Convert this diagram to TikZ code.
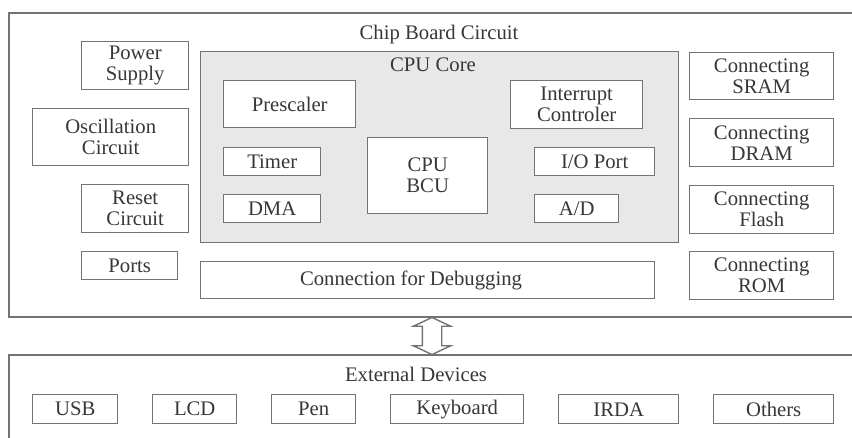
\documentclass[tikz,border=0pt]{standalone}
\usepackage{fontspec}
\setmainfont{Liberation Serif}
\usetikzlibrary{shapes.arrows,calc}
\definecolor{ln}{RGB}{115,115,115}
\definecolor{tx}{RGB}{55,55,55}
\definecolor{corefill}{RGB}{232,232,232}
\begin{document}
\begin{tikzpicture}[x=1pt,y=-1pt,
  box/.style={draw=ln, line width=1.4pt, fill=white, inner sep=0pt, anchor=north west, align=center, text=tx, font=\fontsize{20.7}{21}\selectfont},
  lbl/.style={text=tx, inner sep=0pt, font=\fontsize{20.7}{21}\selectfont},
  frame/.style={draw=ln, line width=1.4pt}]
\useasboundingbox (0,0) rectangle (852,437);
\fill[white] (0,0) rectangle (852,437);
% outer frames
\draw[frame] (860,13) -- (9,13) -- (9,317) -- (860,317);
\draw[frame] (860,355) -- (9,355) -- (9,445);
\node[lbl] (chiplbl) at (439,35) {Chip Board Circuit};
% left column
\node[box, minimum width=107pt, minimum height=48pt] (power) at (81,41) {Power\\Supply};
\node[box, minimum width=156pt, minimum height=57pt] (osc) at (32,108) {Oscillation\\Circuit};
\node[box, minimum width=107pt, minimum height=48pt] (reset) at (81,184) {Reset\\Circuit};
\node[box, minimum width=96pt, minimum height=28pt] (ports) at (81,251) {Ports};
% CPU core
\node[box, fill=corefill, minimum width=478pt, minimum height=191pt] (core) at (200,51) {};
\node[lbl] (corelbl) at (433,65) {CPU Core};
\node[box, minimum width=132pt, minimum height=47pt] (presc) at (223,80) {Prescaler};
\node[box, minimum width=97pt, minimum height=28pt] (timer) at (223,147) {Timer};
\node[box, minimum width=97pt, minimum height=28pt] (dma) at (223,194) {DMA};
\node[box, minimum width=120pt, minimum height=76pt] (cpu) at (367,137) {CPU\\BCU};
\node[box, minimum width=132pt, minimum height=48pt] (intr) at (510,80) {Interrupt\\Controler};
\node[box, minimum width=120pt, minimum height=28pt] (io) at (534,147) {I/O Port};
\node[box, minimum width=84pt, minimum height=28pt] (ad) at (534,194) {A/D};
% debugging
\node[box, minimum width=454pt, minimum height=37pt] (dbg) at (200,261) {};
\node[lbl] (dbglbl) at (411,280) {Connection for Debugging};
% right column
\node[box, minimum width=144pt, minimum height=47pt] (sram) at (689,52) {Connecting\\SRAM};
\node[box, minimum width=144pt, minimum height=48pt] (dram) at (689,118) {Connecting\\DRAM};
\node[box, minimum width=144pt, minimum height=48pt] (flash) at (689,185) {Connecting\\Flash};
\node[box, minimum width=144pt, minimum height=48pt] (rom) at (689,251) {Connecting\\ROM};
% arrow
\coordinate (chipS) at (432,317);
\coordinate (extN) at (432,355);
\node[draw=ln, line width=1.4pt, fill=white, double arrow, rotate=90, minimum height=37pt, inner xsep=0pt, inner ysep=9pt, double arrow head extend=9pt, double arrow tip angle=130] (arr) at ($(chipS)!0.5!(extN)$) {};
% external devices
\node[lbl] (extlbl) at (416,374) {External Devices};
\node[box, minimum width=85pt, minimum height=29pt] (usb) at (32,394) {USB};
\node[box, minimum width=84pt, minimum height=29pt] (lcd) at (152,394) {LCD};
\node[box, minimum width=84pt, minimum height=29pt] (pen) at (271,394) {Pen};
\node[box, minimum width=133pt, minimum height=29pt] (kbd) at (390,394) {Keyboard};
\node[box, minimum width=120pt, minimum height=29pt] (irda) at (558,394) {IRDA};
\node[box, minimum width=120pt, minimum height=29pt] (oth) at (713,394) {Others};
\end{tikzpicture}
\end{document}
